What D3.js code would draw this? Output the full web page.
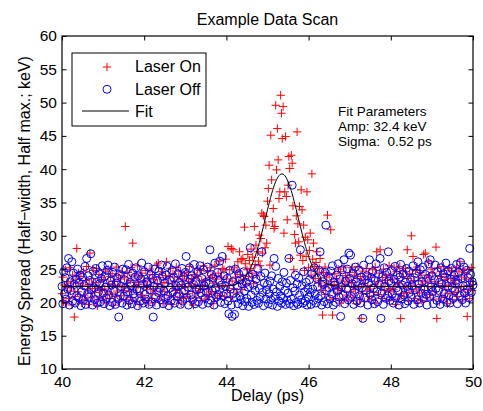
<!DOCTYPE html>
<html><head><meta charset="utf-8">
<script src="https://cdn.jsdelivr.net/npm/d3@7/dist/d3.min.js"></script>
<style>
body{margin:0;background:#fff}
svg{display:block}
text{font-family:"Liberation Sans",Arial,Helvetica,sans-serif;fill:#000}
</style>
</head><body>
<svg id="chart" width="483" height="411"></svg>
<script>
// ---------------- data ----------------
const delayDomain = [40, 50];
const spreadDomain = [10, 60];
const xTickValues = [40, 42, 44, 46, 48, 50];
const yTickValues = [10, 15, 20, 25, 30, 35, 40, 45, 50, 55, 60];

// Laser On: energy spread (keV), one value per delay step, delay 40 -> 50 ps
const laserOn = [
21.3,23.8,20.1,22.6,24.9,19.8,22.2,23.1,20.6,25.2,21.7,22.9,19.6,24.1,22.4,17.8,20.9,23.5,28.1,21.6,24.4,20.3,22.8,23.9,19.9,
22.5,24.6,21.1,20.4,23.3,25.4,21.9,19.7,22.7,27.4,20.8,23.6,22.1,24.8,20.2,21.5,23.0,25.1,19.5,22.3,24.2,20.7,21.8,23.7,22.0,
20.5,23.4,22.0,24.7,19.9,21.2,25.0,22.8,20.6,23.9,21.4,24.3,22.5,19.6,23.2,20.9,25.3,21.7,22.6,24.0,20.2,23.5,21.0,24.6,22.3,
21.8,23.7,31.4,20.4,22.9,24.5,19.8,21.6,23.3,25.2,20.7,28.9,22.2,24.1,20.1,23.0,21.5,25.5,22.7,19.7,23.8,21.1,24.4,20.8,22.4,
23.1,20.3,24.8,21.9,22.6,19.9,23.6,25.0,21.3,20.6,24.2,22.1,23.4,20.0,21.7,25.6,22.8,25.9,20.5,23.7,21.2,24.6,22.3,19.8,23.0,
21.6,24.0,26.1,20.2,22.9,23.8,21.0,25.1,19.7,22.4,24.3,20.8,23.2,21.8,25.3,22.0,20.4,23.9,21.4,24.7,19.9,22.7,23.5,20.6,24.1,
22.2,20.9,24.5,21.3,23.1,25.4,20.1,22.8,23.6,21.7,19.6,24.2,22.5,20.7,23.9,25.0,21.5,22.1,24.8,20.3,23.3,21.9,25.5,22.6,20.5,
23.4,21.2,24.6,22.0,20.8,25.2,23.7,21.6,24.0,19.8,22.9,25.6,21.4,23.5,20.6,24.4,22.3,26.2,21.0,23.8,25.1,22.5,24.9,20.9,26.5,
23.5,21.8,28.4,22.6,24.9,20.7,28.1,23.2,27.9,22.1,25.3,23.8,21.4,24.6,26.1,22.9,27.6,24.2,26.4,21.9,26.6,23.5,31.3,25.8,22.7,
24.9,27.2,23.9,26.3,25.1,28.0,24.4,26.8,22.8,31.4,25.7,28.6,24.1,27.6,26.2,30.1,25.5,29.6,33.4,27.4,33.1,32.9,28.2,31.6,28.9,
35.2,37.1,40.6,25.6,45.1,38.4,32.1,34.1,31.1,31.4,49.6,39.9,46.1,41.4,35.6,36.6,51.1,48.4,44.6,49.4,30.4,36.6,44.9,35.9,32.4,
37.6,41.9,40.1,26.6,42.1,40.9,34.5,24.9,30.2,28.9,33.0,45.6,31.8,29.1,34.4,27.1,36.9,33.9,26.3,31.6,24.8,29.8,26.9,36.6,29.4,
25.2,27.8,30.4,24.1,39.3,26.5,28.9,25.4,23.6,26.0,27.6,24.4,22.9,25.1,26.6,23.3,21.8,18.1,24.5,22.4,25.3,21.2,23.8,33.1,22.6,
24.2,20.4,30.9,23.1,18.1,22.0,22.7,24.3,20.6,23.5,21.4,25.0,22.1,19.9,24.6,21.8,23.2,20.4,25.3,22.6,24.0,21.1,23.7,20.2,22.9,
24.5,21.6,23.0,25.2,20.7,22.4,24.1,21.9,19.8,23.6,25.4,22.2,20.5,23.9,17.6,21.3,24.7,22.8,20.1,23.4,25.1,21.7,22.5,24.3,20.9,
22.0,23.8,20.4,24.9,21.5,22.7,25.3,19.9,27.6,23.1,21.2,24.4,27.9,22.3,20.6,23.7,25.0,21.8,22.9,24.2,20.3,23.3,21.6,25.5,22.1,
24.0,20.8,23.5,21.9,25.2,22.4,19.7,24.6,23.0,20.5,22.8,25.4,17.6,21.3,23.9,24.7,20.9,22.2,25.1,21.5,27.9,23.6,20.2,24.3,22.6,
30.0,21.7,26.9,23.3,20.6,24.8,22.0,25.3,19.9,23.7,21.4,24.5,22.7,20.3,23.2,27.2,21.8,27.4,24.1,20.7,22.9,26.1,23.8,21.2,25.0,
22.3,24.4,20.5,23.1,21.6,28.3,17.6,25.2,22.8,20.1,23.9,24.6,21.0,22.5,25.4,20.8,23.4,21.9,24.2,19.8,22.6,25.1,21.3,23.6,24.8,
20.4,22.9,24.0,21.5,23.3,25.3,20.9,22.2,24.7,26.1,21.7,23.8,20.2,25.0,22.4,24.5,21.1,23.5,17.9,22.0,24.9,20.6,23.2,25.2,21.8,22.7
];

// Laser Off: energy spread (keV), same delay steps
const laserOff = [
22.4,19.8,24.6,21.3,23.7,20.5,25.2,22.0,26.6,19.6,23.1,21.8,26.1,20.2,24.4,22.7,19.9,23.5,21.0,25.0,20.7,22.9,24.1,19.5,21.6,
23.8,20.3,22.5,25.4,19.7,26.6,21.2,24.0,20.8,23.3,27.3,21.9,19.6,24.7,22.2,20.4,25.1,23.0,19.9,21.5,24.3,22.8,20.1,23.6,25.5,
21.4,19.8,23.9,22.3,20.6,24.8,25.6,21.1,19.5,23.2,22.6,20.0,24.5,21.7,25.3,19.7,22.9,23.7,20.5,17.8,24.2,21.0,22.4,19.9,25.0,
20.9,23.4,22.1,24.9,19.6,21.6,25.7,20.3,23.0,22.5,19.8,24.4,21.3,20.7,23.8,25.2,22.0,19.5,24.0,21.8,20.2,23.5,25.9,22.7,19.9,
24.6,21.2,20.5,23.1,22.8,25.3,19.7,21.9,24.2,20.1,23.6,17.8,22.4,25.0,20.8,19.6,23.3,21.5,24.7,22.1,20.4,25.6,23.9,19.8,21.7,
22.9,20.6,24.1,25.4,21.0,19.5,23.4,22.2,20.3,24.8,21.6,23.7,19.9,25.8,22.5,20.9,24.3,21.3,23.0,19.7,22.6,25.1,20.2,23.8,21.8,
24.5,26.9,20.7,22.3,19.6,25.2,23.5,21.1,24.0,20.4,22.7,25.7,19.8,23.2,21.9,24.6,20.1,22.0,25.5,21.4,23.6,19.7,24.9,22.5,20.6,
23.0,21.5,25.3,19.9,22.8,27.9,20.3,24.2,21.7,23.7,19.6,25.9,22.1,20.8,24.5,21.2,23.3,26.2,20.0,22.6,26.9,21.0,24.0,19.8,22.4,
21.3,23.6,20.2,18.3,24.8,22.0,19.6,17.9,23.1,21.4,18.2,25.0,20.7,22.5,19.8,24.3,21.0,23.4,20.4,22.8,19.5,24.6,21.7,20.1,23.0,
20.6,22.3,19.4,23.8,28.2,21.1,20.0,24.2,22.6,19.7,21.8,23.5,20.3,25.1,19.9,22.1,20.8,23.9,27.6,21.5,19.5,22.9,24.4,20.5,21.9,
22.7,19.8,21.3,23.2,20.4,24.0,19.6,22.0,26.6,20.9,25.4,21.6,19.4,23.6,20.2,22.4,21.0,19.9,23.1,20.6,24.5,21.8,19.7,22.9,20.3,
21.4,26.6,19.8,23.3,20.5,37.6,22.2,19.5,21.7,24.1,20.0,22.8,19.7,23.7,21.1,27.9,20.4,22.5,19.9,24.6,21.6,20.2,23.0,19.6,22.1,
20.8,23.4,21.5,19.7,24.3,22.0,20.3,25.2,21.2,19.9,23.6,22.4,20.6,24.8,27.6,21.0,19.6,23.1,22.7,20.1,24.5,31.6,21.8,19.8,23.9,
22.2,20.5,24.7,21.3,25.5,19.6,23.0,22.6,20.0,24.1,21.7,25.8,20.8,23.5,17.9,22.3,24.9,21.1,26.4,19.8,23.2,22.0,25.0,20.4,27.4,
23.6,27.1,20.9,22.8,24.4,19.7,21.5,25.3,23.1,20.2,22.5,24.8,21.0,19.9,23.8,22.2,17.6,25.6,20.7,23.4,21.8,24.0,19.6,22.9,26.4,
21.2,23.7,20.4,24.6,22.1,19.8,23.3,25.8,21.6,20.1,24.2,22.7,26.6,17.6,21.4,23.9,19.7,25.2,22.4,20.6,24.5,21.0,27.6,23.2,20.3,
22.9,24.8,21.3,19.9,23.5,25.4,20.7,22.2,24.1,21.7,19.6,23.8,25.7,20.5,22.6,24.3,21.1,19.8,23.0,25.1,22.4,20.2,24.7,21.5,23.4,
20.8,22.5,25.5,19.7,23.7,21.9,24.4,20.4,26.1,22.8,19.9,24.9,21.4,23.1,25.3,20.6,22.0,24.2,21.2,19.6,23.6,25.8,20.9,26.4,22.3,
24.0,21.6,19.8,23.4,25.6,22.1,20.3,24.6,21.8,23.0,19.7,25.2,22.7,20.5,24.3,21.3,23.8,25.9,20.0,22.4,24.7,21.1,19.9,23.5,25.1,
22.2,20.6,24.1,21.7,23.3,25.7,19.8,22.9,24.5,21.0,26.0,23.6,20.4,22.5,25.3,21.4,19.9,24.8,22.0,23.7,20.7,28.1,24.2,21.5,23.1,22.6
];

// Fit curve
const fitDelay  = [40, 43, 44.0, 44.1, 44.2, 44.3, 44.4, 44.5, 44.6, 44.7, 44.8, 44.9, 45.0, 45.1, 45.2, 45.3, 45.35, 45.4, 45.5, 45.6, 45.7, 45.8, 45.9, 46.0, 46.1, 46.2, 46.3, 46.4, 46.5, 46.6, 46.7, 47, 50];
const fitSpread = [22.4, 22.41, 22.46, 22.53, 22.67, 22.94, 23.41, 24.17, 25.31, 26.91, 28.97, 31.37, 33.93, 36.30, 38.15, 39.17, 39.30, 39.17, 38.15, 36.30, 33.93, 31.37, 28.97, 26.91, 25.31, 24.17, 23.41, 22.94, 22.67, 22.53, 22.46, 22.4, 22.4];

const titleText = "Example Data Scan";
const xLabel = "Delay (ps)";
const yLabel = "Energy Spread (Half\u2212width, Half max.; keV)";
const legendLabels = ["Laser On", "Laser Off", "Fit"];
const fitTextLines = ["Fit Parameters", "Amp: 32.4 keV", "Sigma:  0.52 ps"];

// ---------------- drawing ----------------
const svg = d3.select("#chart");
const L = 62, R = 473, T = 36, B = 369;
const x = d3.scaleLinear().domain(delayDomain).range([L, R]);
const y = d3.scaleLinear().domain(spreadDomain).range([B, T]);
const FS = 16;

svg.append("rect").attr("width", 483).attr("height", 411).attr("fill", "#fff");

const onPts = laserOn.map((v, i) => [delayDomain[0] + (delayDomain[1] - delayDomain[0]) * i / (laserOn.length - 1), v]);
const offPts = laserOff.map((v, i) => [delayDomain[0] + (delayDomain[1] - delayDomain[0]) * i / (laserOff.length - 1), v]);

const pl = 4.2;
svg.append("g").selectAll("path").data(onPts).join("path")
  .attr("d", d => `M${x(d[0]) - pl},${y(d[1])}H${x(d[0]) + pl}M${x(d[0])},${y(d[1]) - pl}V${y(d[1]) + pl}`)
  .attr("stroke", "#ff0000").attr("stroke-width", 1).attr("fill", "none");

svg.append("g").selectAll("circle").data(offPts).join("circle")
  .attr("cx", d => x(d[0])).attr("cy", d => y(d[1])).attr("r", 4)
  .attr("stroke", "#0000ff").attr("stroke-width", 1).attr("fill", "none");

svg.append("path")
  .datum(fitDelay.map((d, i) => [d, fitSpread[i]]))
  .attr("d", d3.line().x(d => x(d[0])).y(d => y(d[1])).curve(d3.curveMonotoneX))
  .attr("stroke", "#000").attr("stroke-width", 1).attr("fill", "none");

// axes (MATLAB style: ticks inside, all four sides)
const tk = 4.5;
const gx = svg.append("g").attr("transform", `translate(0,${B})`)
  .call(d3.axisBottom(x).tickValues(xTickValues).tickSizeInner(-tk).tickSizeOuter(0).tickPadding(7).tickFormat(d3.format("d")));
const gy = svg.append("g").attr("transform", `translate(${L},0)`)
  .call(d3.axisLeft(y).tickValues(yTickValues).tickSizeInner(-tk).tickSizeOuter(0).tickPadding(5).tickFormat(d3.format("d")));
const gxt = svg.append("g").attr("transform", `translate(0,${T})`)
  .call(d3.axisTop(x).tickValues(xTickValues).tickSizeInner(-tk).tickSizeOuter(0).tickFormat(""));
const gyr = svg.append("g").attr("transform", `translate(${R},0)`)
  .call(d3.axisRight(y).tickValues(yTickValues).tickSizeInner(-tk).tickSizeOuter(0).tickFormat(""));
[gx, gy, gxt, gyr].forEach(g => {
  g.select(".domain").remove();
  g.selectAll("line").attr("stroke", "#000");
  g.selectAll("text").attr("font-size", 15.5).attr("font-family", "Liberation Sans, Arial, sans-serif").attr("fill", "#000");
});
svg.append("rect").attr("x", L).attr("y", T).attr("width", R - L).attr("height", B - T)
  .attr("fill", "none").attr("stroke", "#000").attr("stroke-width", 1.2);

// titles
svg.append("text").attr("x", (L + R) / 2).attr("y", 25).attr("text-anchor", "middle").attr("font-size", FS).text(titleText);
svg.append("text").attr("x", (L + R) / 2).attr("y", 401).attr("text-anchor", "middle").attr("font-size", FS).text(xLabel);
svg.append("text").attr("transform", "translate(29.5,211) rotate(-90)").attr("text-anchor", "middle").attr("font-size", FS).text(yLabel);

// legend
const lg = svg.append("g");
lg.append("rect").attr("x", 72).attr("y", 53).attr("width", 134).attr("height", 73)
  .attr("fill", "#fff").attr("stroke", "#000").attr("stroke-width", 1);
const lx = 107;
lg.append("path").attr("d", `M${lx - pl},67H${lx + pl}M${lx},${67 - pl}V${67 + pl}`).attr("stroke", "#ff0000").attr("fill", "none");
lg.append("circle").attr("cx", lx).attr("cy", 89.3).attr("r", 4).attr("stroke", "#0000ff").attr("fill", "none");
lg.append("line").attr("x1", 82).attr("x2", 129).attr("y1", 111).attr("y2", 111).attr("stroke", "#000");
[72, 95, 116.5].forEach((yy, i) => {
  lg.append("text").attr("x", 135).attr("y", yy).attr("font-size", FS).text(legendLabels[i]);
});

// fit parameter annotation
[116, 131, 146].forEach((yy, i) => {
  svg.append("text").attr("x", 338).attr("y", yy).attr("font-size", 13.5).style("white-space", "pre").text(fitTextLines[i]);
});
</script>
</body></html>
